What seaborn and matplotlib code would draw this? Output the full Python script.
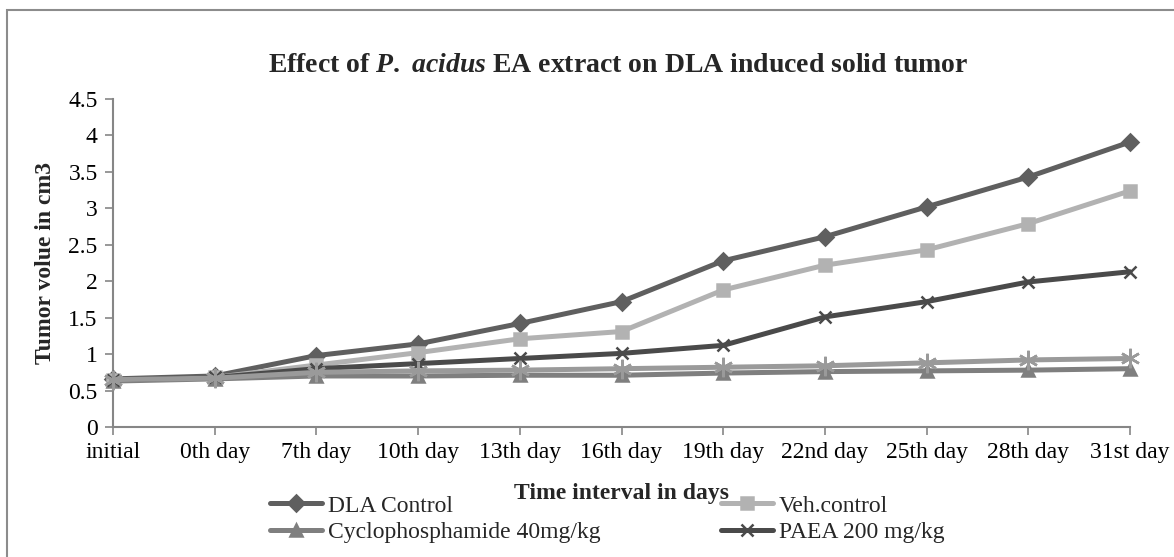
import numpy as np
import pandas as pd
import seaborn as sns
import matplotlib.pyplot as plt
from matplotlib.patches import Rectangle

sns.set_style("white")
plt.rcParams["font.family"] = ["Liberation Serif", "DejaVu Serif"]
plt.rcParams["mathtext.fontset"] = "custom"
plt.rcParams["mathtext.rm"] = "Liberation Serif:bold"
plt.rcParams["mathtext.it"] = "Liberation Serif:bold:italic"
plt.rcParams["mathtext.bf"] = "Liberation Serif:bold"

days = ["initial", "0th day", "7th day", "10th day", "13th day", "16th day",
        "19th day", "22nd day", "25th day", "28th day", "31st day"]

dla_control = [0.66, 0.70, 0.98, 1.14, 1.42, 1.72, 2.28, 2.61, 3.02, 3.43, 3.91]
veh_control = [0.64, 0.68, 0.85, 1.02, 1.21, 1.31, 1.88, 2.22, 2.43, 2.79, 3.24]
cyclophosphamide = [0.63, 0.66, 0.70, 0.70, 0.71, 0.71, 0.74, 0.76, 0.77, 0.78, 0.80]
paea_200 = [0.65, 0.68, 0.80, 0.87, 0.94, 1.01, 1.12, 1.51, 1.72, 1.99, 2.13]
fifth_series = [0.65, 0.67, 0.75, 0.77, 0.78, 0.80, 0.82, 0.84, 0.88, 0.92, 0.94]

series = [
    ("DLA Control", dla_control, "#5f5f5f", "D", 11),
    ("Veh.control", veh_control, "#b2b2b2", "s", 11),
    ("Cyclophosphamide 40mg/kg", cyclophosphamide, "#7f7f7f", "^", 12),
    ("PAEA 200 mg/kg", paea_200, "#4a4a4a", "x", 12),
    ("_hidden", fifth_series, "#9a9a9a", (6, 2, 0), 14),
]

fig = plt.figure(figsize=(11.74, 5.57), dpi=100)
ax = fig.add_axes([113 / 1174, 1 - 427 / 557, (1130 - 113) / 1174, (427 - 99) / 557])

x = np.arange(len(days))
for name, vals, color, marker, ms in series:
    sns.lineplot(x=x, y=vals, ax=ax, color=color, linewidth=3.6, marker=marker,
                 markersize=ms, markeredgecolor=color, markeredgewidth=1.8,
                 label=name, zorder=3, clip_on=False)

ax.set_xlim(0, len(days) - 1)
ax.set_ylim(0, 4.5)
ax.set_xticks(x)
ax.set_xticklabels(days)
ax.set_yticks(np.arange(0, 4.51, 0.5))
ax.set_yticklabels(["0", "0.5", "1", "1.5", "2", "2.5", "3", "3.5", "4", "4.5"])
ax.tick_params(axis="both", labelsize=17, colors="#868686", labelcolor="black",
               length=6, width=1.2, direction="out", bottom=True, left=True)
ax.tick_params(axis="x", pad=5)
ax.tick_params(axis="y", pad=5)
for side in ["top", "right"]:
    ax.spines[side].set_visible(False)
for side in ["left", "bottom"]:
    ax.spines[side].set_color("#868686")
    ax.spines[side].set_linewidth(1.5)
ax.set_xlabel("")
ax.set_ylabel("")

fig.text(618 / 1174, 1 - 66 / 557,
         r"Effect of $P.\ acidus$ EA extract on DLA induced solid tumor",
         ha="center", va="center", fontsize=20, fontweight="bold")
fig.text(46 / 1174, 1 - 263 / 557, "Tumor volue in cm3", rotation=90,
         ha="center", va="center", fontsize=17, fontweight="bold")
fig.text(622 / 1174, 1 - 493 / 557, "Time interval in days",
         ha="center", va="center", fontsize=17, fontweight="bold")

handles, labels = ax.get_legend_handles_labels()
lookup = dict(zip(labels, handles))
# column-major fill: DLA / Cyclo in column 1, Veh / PAEA in column 2
leg_order = ["DLA Control", "Cyclophosphamide 40mg/kg", "Veh.control", "PAEA 200 mg/kg"]
for name in leg_order:
    lookup[name].set_markersize(8)
ax.legend([lookup[n] for n in leg_order], leg_order, ncol=2, frameon=False,
          loc="upper left", bbox_to_anchor=(270 / 1174, 1 - 495 / 557),
          bbox_transform=fig.transFigure, fontsize=17, handlelength=2.2,
          handletextpad=0.25, columnspacing=5.1, labelspacing=0.22,
          borderaxespad=0, borderpad=0)

fig.patches.append(Rectangle((7 / 1174, -0.05), 1.1, 1 - 10 / 557 + 0.05,
                             transform=fig.transFigure, fill=False,
                             edgecolor="#8c8c8c", linewidth=1.5))

fig.savefig("out.png", dpi=100)
